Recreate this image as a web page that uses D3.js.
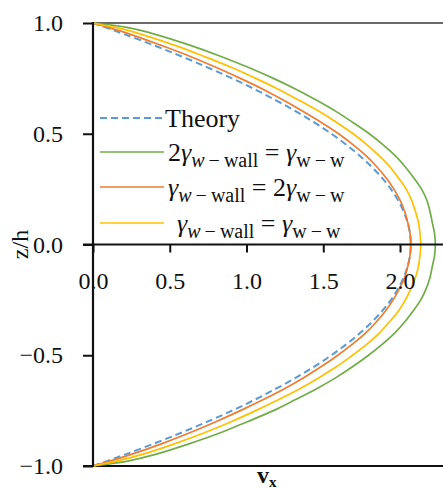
<!DOCTYPE html>
<html>
<head>
<meta charset="utf-8">
<script src="https://cdn.jsdelivr.net/npm/d3@7"></script>
<style>
  html, body { margin: 0; padding: 0; background: #fff; }
  svg { display: block; }
  text { font-family: "Liberation Serif", "Times New Roman", serif; fill: #111; }
</style>
</head>
<body>
<svg id="chart" width="443" height="490"></svg>
<script>
// Normalised channel height positions (z/h), shared by every profile
const zLevels = [-1, -0.99, -0.98, -0.95, -0.9, -0.85, -0.8, -0.75, -0.7, -0.65, -0.6, -0.55,
  -0.5, -0.45, -0.4, -0.35, -0.3, -0.25, -0.2, -0.15, -0.1, -0.05, 0,
  0.05, 0.1, 0.15, 0.2, 0.25, 0.3, 0.35, 0.4, 0.45, 0.5, 0.55, 0.6, 0.65, 0.7,
  0.75, 0.8, 0.85, 0.9, 0.95, 0.98, 0.99, 1];

// Velocity v_x at each z level
const theory = [0, 0.041, 0.082, 0.202, 0.393, 0.574, 0.745, 0.906, 1.056, 1.195, 1.325, 1.444,
  1.553, 1.651, 1.739, 1.816, 1.884, 1.941, 1.987, 2.023, 2.049, 2.065, 2.07,
  2.065, 2.049, 2.023, 1.987, 1.941, 1.884, 1.816, 1.739, 1.651, 1.553, 1.444, 1.325, 1.195, 1.056,
  0.906, 0.745, 0.574, 0.393, 0.202, 0.082, 0.041, 0];

const wallHalf = [0, 0.11, 0.21, 0.395, 0.625, 0.83, 1.005, 1.175, 1.32, 1.46, 1.585, 1.695,
  1.795, 1.885, 1.965, 2.03, 2.085, 2.135, 2.17, 2.195, 2.21, 2.225, 2.23,
  2.225, 2.21, 2.195, 2.175, 2.14, 2.09, 2.035, 1.97, 1.89, 1.8, 1.695, 1.585, 1.46, 1.325,
  1.175, 1.01, 0.83, 0.63, 0.4, 0.22, 0.12, 0];

const wallDouble = [0, 0.05, 0.1, 0.24, 0.445, 0.63, 0.8, 0.96, 1.11, 1.25, 1.375, 1.49,
  1.595, 1.69, 1.775, 1.845, 1.905, 1.955, 1.995, 2.03, 2.05, 2.065, 2.07,
  2.065, 2.05, 2.03, 2.0, 1.96, 1.91, 1.85, 1.78, 1.695, 1.6, 1.49, 1.37, 1.245, 1.11,
  0.96, 0.8, 0.63, 0.44, 0.24, 0.1, 0.05, 0];

const wallEqual = [0, 0.07, 0.14, 0.31, 0.53, 0.725, 0.9, 1.06, 1.21, 1.35, 1.475, 1.59,
  1.69, 1.785, 1.865, 1.93, 1.99, 2.035, 2.07, 2.1, 2.12, 2.13, 2.135,
  2.13, 2.12, 2.1, 2.075, 2.04, 1.99, 1.935, 1.865, 1.785, 1.695, 1.59, 1.475, 1.345, 1.21,
  1.06, 0.9, 0.72, 0.53, 0.31, 0.15, 0.07, 0];

const xTicks = [0, 0.5, 1.0, 1.5, 2.0];
const yTicks = [-1, -0.5, 0, 0.5, 1];

const series = [
  { key: "theory", values: theory, color: "#5B9BD5", dash: "7,4", width: 2 },
  { key: "wallHalf", values: wallHalf, color: "#70AD47", dash: null, width: 1.7 },
  { key: "wallDouble", values: wallDouble, color: "#ED7D31", dash: null, width: 1.7 },
  { key: "wallEqual", values: wallEqual, color: "#FFC000", dash: null, width: 1.7 }
];

// Legend entries: each label is a list of text runs (italic / subscript flags)
const T = "\u2009";
const legendEntries = [
  { key: "theory", runs: [{ t: "Theory" }], x: 165 },
  { key: "wallHalf", runs: [{ t: "2" }, { t: "γ", i: 1 }, { t: "w", i: 1, s: 1 }, { t: T + "−" + T + "wall", s: 1 },
      { t: " = " }, { t: "γ", i: 1 }, { t: "w" + T + "−" + T + "w", s: 1 }], x: 168 },
  { key: "wallDouble", runs: [{ t: "γ", i: 1 }, { t: "w", i: 1, s: 1 }, { t: T + "−" + T + "wall", s: 1 },
      { t: " = 2" }, { t: "γ", i: 1 }, { t: "w" + T + "−" + T + "w", s: 1 }], x: 168 },
  { key: "wallEqual", runs: [{ t: "γ", i: 1 }, { t: "w", i: 1, s: 1 }, { t: T + "−" + T + "wall", s: 1 },
      { t: " = " }, { t: "γ", i: 1 }, { t: "w" + T + "−" + T + "w", s: 1 }], x: 177 }
];

const svg = d3.select("#chart");
const W = 443;

const x = d3.scaleLinear().domain([0, 2.28]).range([93, 443]);
const y = d3.scaleLinear().domain([-1, 1]).range([466, 23]);

// frame lines: top border, bottom border
svg.append("line").attr("x1", x(0)).attr("x2", W).attr("y1", y(1)).attr("y2", y(1))
  .attr("stroke", "#3a3a3a").attr("stroke-width", 1.6);
svg.append("line").attr("x1", x(0) - 10).attr("x2", W).attr("y1", y(-1)).attr("y2", y(-1))
  .attr("stroke", "#111").attr("stroke-width", 2);

// velocity profiles
const line = d3.line()
  .x(d => x(d.v))
  .y(d => y(d.z))
  .curve(d3.curveCatmullRom.alpha(0.5));

series.forEach(s => {
  const pts = zLevels.map((z, i) => ({ z, v: s.values[i] }));
  svg.append("path")
    .datum(pts)
    .attr("d", line)
    .attr("fill", "none")
    .attr("stroke", s.color)
    .attr("stroke-width", s.width)
    .attr("stroke-dasharray", s.dash)
    .attr("stroke-linejoin", "round");
});

// horizontal axis through z = 0
const xAxis = d3.axisBottom(x).tickValues(xTicks).tickFormat(d3.format(".1f"))
  .tickSize(8).tickPadding(19);
const gx = svg.append("g").attr("transform", `translate(0,${y(0)})`).call(xAxis);
gx.select(".domain").remove();
gx.selectAll(".tick line").attr("stroke", "#111").attr("stroke-width", 2);
gx.selectAll(".tick text").attr("font-size", 24).attr("font-family", "Liberation Serif").attr("fill", "#111");
svg.append("line").attr("x1", x(0) - 10).attr("x2", W).attr("y1", y(0)).attr("y2", y(0))
  .attr("stroke", "#111").attr("stroke-width", 2);

// vertical axis
const yAxis = d3.axisLeft(y).tickValues(yTicks).tickFormat(d3.format(".1f"))
  .tickSize(10).tickPadding(20);
const gy = svg.append("g").attr("transform", `translate(${x(0)},0)`).call(yAxis);
gy.select(".domain").remove();
gy.selectAll(".tick line").attr("stroke", "#111").attr("stroke-width", 2);
gy.selectAll(".tick text").attr("font-size", 24).attr("font-family", "Liberation Serif").attr("fill", "#111");
svg.append("line").attr("x1", x(0)).attr("x2", x(0)).attr("y1", y(1) - 1).attr("y2", y(-1) + 1)
  .attr("stroke", "#111").attr("stroke-width", 2.2);

// axis titles
svg.append("text")
  .attr("transform", `translate(28,${y(0)}) rotate(-90)`)
  .attr("text-anchor", "middle")
  .attr("font-size", 24)
  .text("z/h");

const vx = svg.append("text").attr("x", 257).attr("y", 483).attr("font-size", 24).attr("font-weight", "bold");
vx.append("tspan").text("v");
vx.append("tspan").attr("font-size", 15).attr("dy", 4).text("x");

// legend
const rowY = { theory: 118, wallHalf: 152, wallDouble: 187, wallEqual: 223 };
const baseOff = 9;
const subShift = 6;
legendEntries.forEach(e => {
  const s = series.find(d => d.key === e.key);
  const ly = rowY[e.key];
  svg.append("line")
    .attr("x1", 100).attr("x2", 164).attr("y1", ly).attr("y2", ly)
    .attr("stroke", s.color).attr("stroke-width", s.width)
    .attr("stroke-dasharray", s.dash);
  const txt = svg.append("text").attr("x", e.x).attr("y", ly + baseOff).attr("font-size", 26);
  let shifted = false;
  e.runs.forEach(r => {
    const ts = txt.append("tspan").text(r.t);
    if (r.i) ts.attr("font-style", "italic");
    if (r.s) {
      ts.attr("font-size", 20);
      if (!shifted) { ts.attr("dy", subShift); shifted = true; }
    } else if (shifted) {
      ts.attr("dy", -subShift); shifted = false;
    }
  });
});
</script>
</body>
</html>
